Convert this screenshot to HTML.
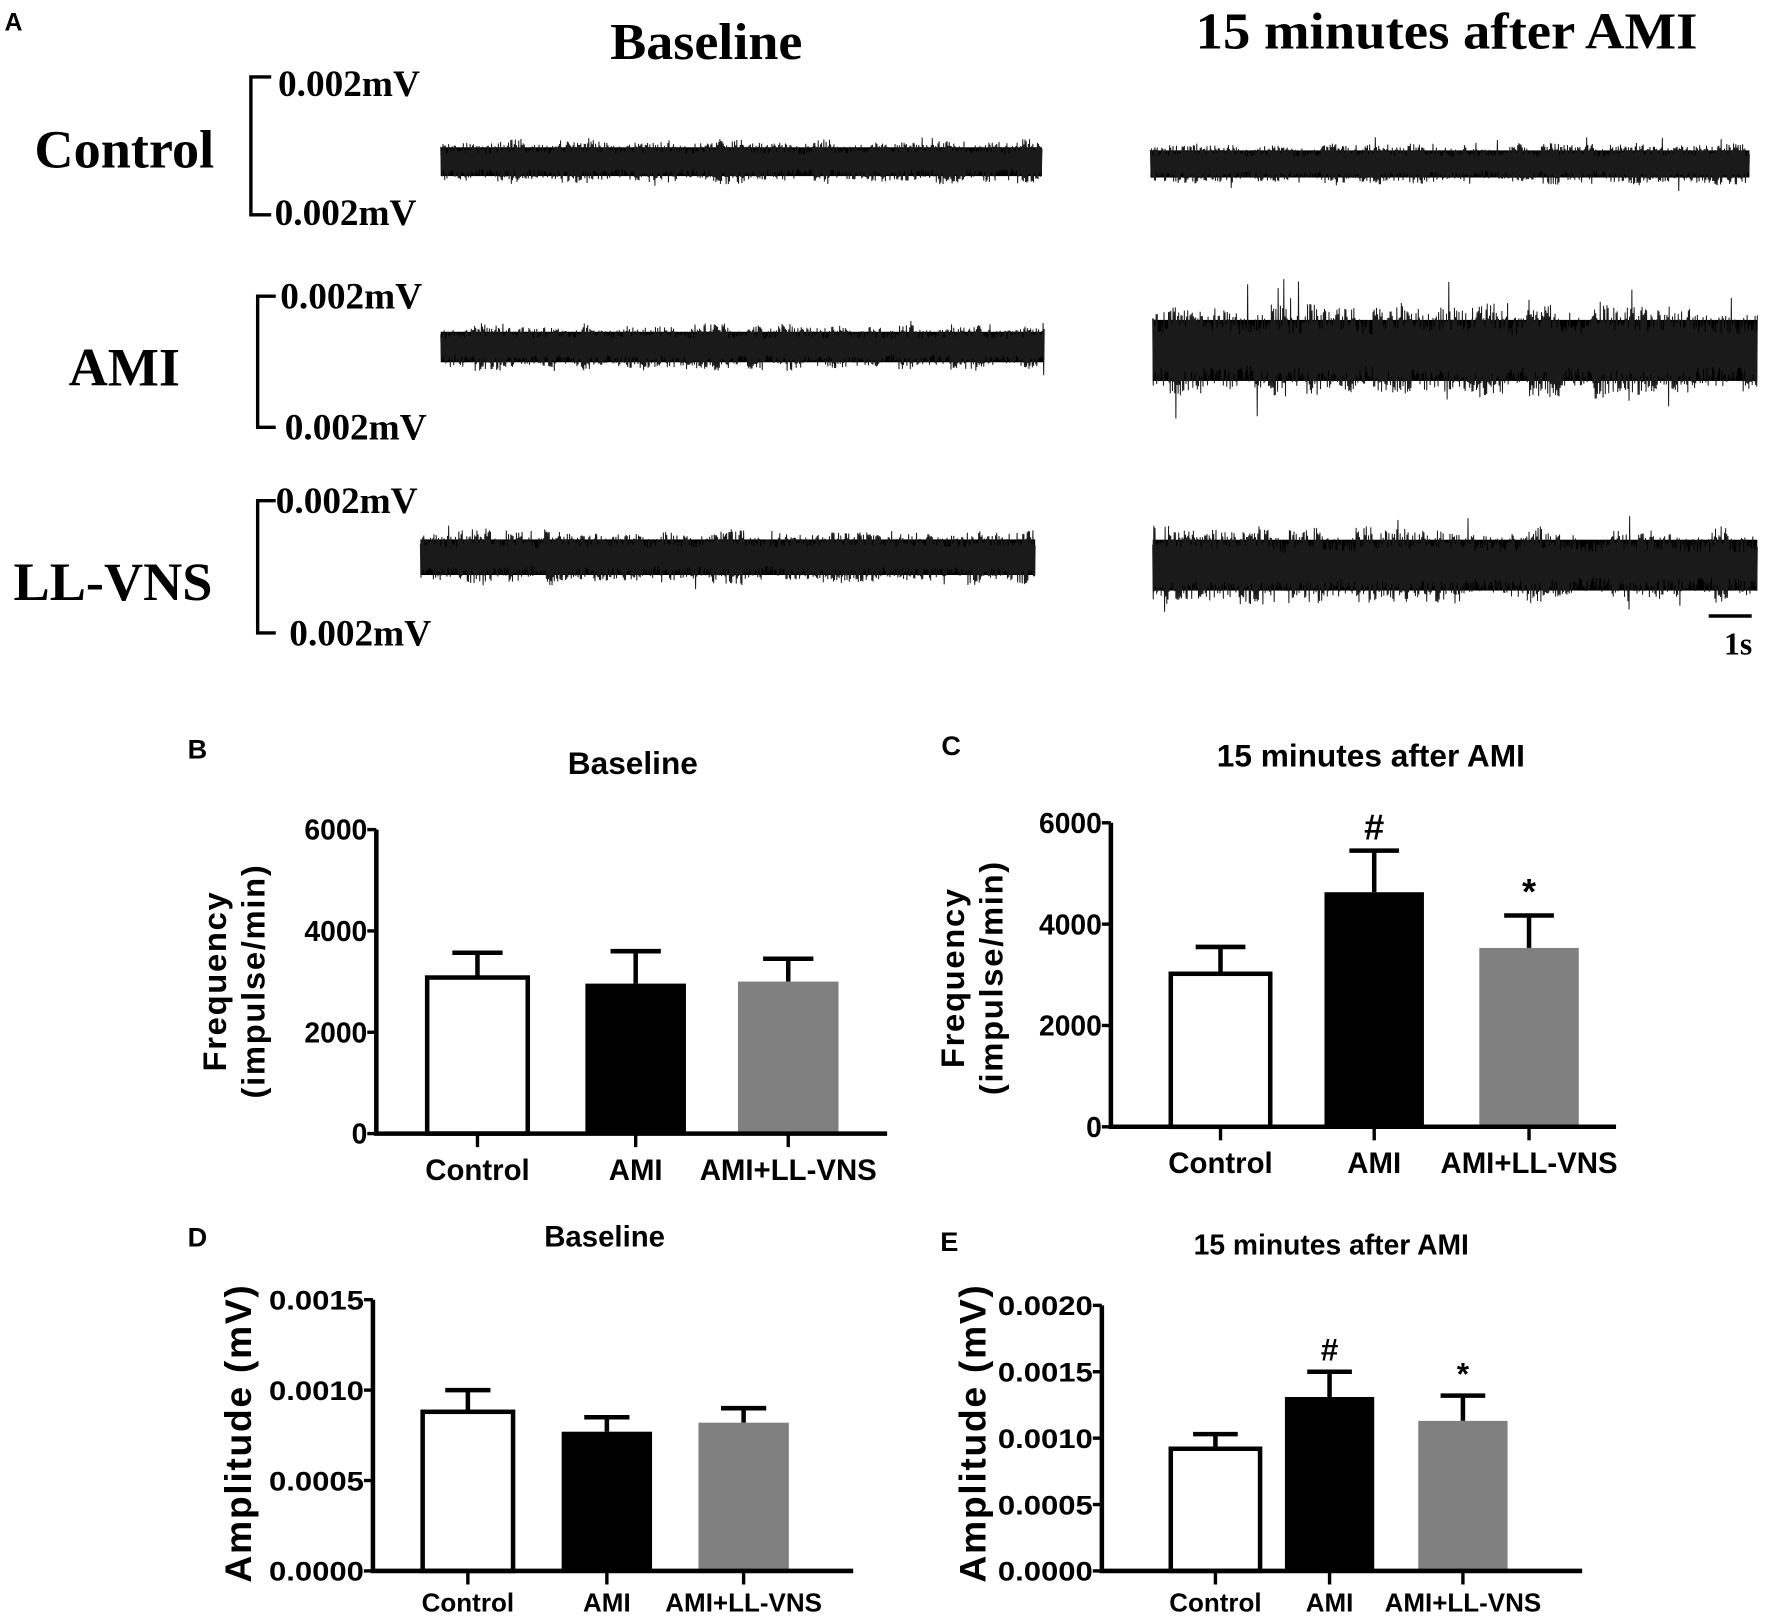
<!DOCTYPE html>
<html><head><meta charset="utf-8">
<style>
html,body{margin:0;padding:0;background:#fff;}
svg{display:block;}
.serif{font-family:"Liberation Serif",serif;font-weight:bold;}
.sans{font-family:"Liberation Sans",sans-serif;font-weight:bold;}
</style></head>
<body>
<svg id="fig" width="1772" height="1623" viewBox="0 0 1568 1436" xmlns="http://www.w3.org/2000/svg">
<g>
<text class="sans" x="4" y="27" font-size="22">A</text>
<text class="serif" x="625" y="52" font-size="46" text-anchor="middle" textLength="170" lengthAdjust="spacingAndGlyphs">Baseline</text>
<text class="serif" x="1280" y="43" font-size="46" text-anchor="middle" textLength="444" lengthAdjust="spacingAndGlyphs">15 minutes after AMI</text>
<text class="serif" x="110" y="148" font-size="48" text-anchor="middle">Control</text>
<text class="serif" x="110" y="341" font-size="48" text-anchor="middle">AMI</text>
<text class="serif" x="100" y="531" font-size="48" text-anchor="middle">LL-VNS</text>
<g fill="none" stroke="#000" stroke-width="3">
<path d="M240 68 H222 V190 H240"/>
<path d="M244 262 H228 V378 H244"/>
<path d="M244 443 H228 V560 H244"/>
</g>
<g class="serif" font-size="33">
<text x="246" y="85">0.002mV</text><text x="243" y="199">0.002mV</text>
<text x="248" y="273">0.002mV</text><text x="252" y="389">0.002mV</text>
<text x="244" y="454">0.002mV</text><text x="256" y="571">0.002mV</text>
</g>
<g id="traces"></g>
<line x1="1512" y1="545" x2="1550" y2="545" stroke="#000" stroke-width="3"/>
<text class="serif" x="1538" y="579" font-size="28" text-anchor="middle">1s</text>
</g>
<g id="charts"></g>
</svg>
<script>
const cats = ["Control","AMI","AMI+LL-VNS"];
const freqBaseMean = [3080, 2960, 3000];
const freqBaseErr = [3570, 3600, 3450];
const freqAfterMean = [3020, 4630, 3530];
const freqAfterErr = [3550, 5450, 4170];
const ampBaseMean = [0.00088, 0.00077, 0.00082];
const ampBaseErr = [0.00100, 0.00085, 0.00090];
const ampAfterMean = [0.00092, 0.00131, 0.00113];
const ampAfterErr = [0.00103, 0.00150, 0.00132];
const freqTicks = [0, 2000, 4000, 6000];
const ampBaseTicks = ["0.0000","0.0005","0.0010","0.0015"];
const ampAfterTicks = ["0.0000","0.0005","0.0010","0.0015","0.0020"];
const afterMarks = ["", "#", "*"];

const NS = "http://www.w3.org/2000/svg";
function mk(tag, attrs, parent){const e=document.createElementNS(NS,tag);for(const k in attrs){if(attrs[k]!==null)e.setAttribute(k,attrs[k]);}parent.appendChild(e);return e;}
const fills=["#fff","#000","#808080"];

function chart(cfg){
  const g=mk("g",{},document.getElementById("charts"));
  
  
  const y=v=>cfg.y0-(v-cfg.vmin)/(cfg.vmax-cfg.vmin)*(cfg.y0-cfg.ytop);
  const lbl=mk("text",{x:cfg.labelX,y:cfg.labelY,"font-size":24,class:"sans"},g);lbl.textContent=cfg.letter;
  
  
  const t=mk("text",{x:cfg.titleX,y:cfg.titleY,"font-size":cfg.titleSize,"text-anchor":"middle",class:"sans"},g);t.textContent=cfg.title;
  
  
  cfg.means.forEach((m,i)=>{
    const x0=cfg.bx[i], w=cfg.bw;
    const cx=x0+w/2;
    const e=mk("line",{x1:cx,x2:cx,y1:y(m),y2:y(cfg.errs[i]),stroke:"#000","stroke-width":4},g);
    
    
    const c=mk("line",{x1:cx-w*0.25,x2:cx+w*0.25,y1:y(cfg.errs[i]),y2:y(cfg.errs[i]),stroke:"#000","stroke-width":4},g);
    
    
    const r=mk("rect",{x:x0,y:y(m),width:w,height:cfg.y0-y(m),fill:fills[i],stroke:i==0?"#000":"none","stroke-width":4},g);
    
    
    if(cfg.marks && cfg.marks[i]){
      const s=mk("text",{x:cx,y:y(cfg.errs[i])-10,"font-size":cfg.markSize,"text-anchor":"middle",class:"sans"},g);
      s.textContent=cfg.marks[i];
      
      
    }
    const tk=mk("line",{x1:cx,x2:cx,y1:cfg.y0,y2:cfg.y0+12,stroke:"#000","stroke-width":3},g);
    
    
    const cl=mk("text",{x:cx,y:cfg.catY,"font-size":cfg.catSize,"text-anchor":"middle",class:"sans"},g);
    cl.textContent=cats[i];
    
    
  });
  const ax=mk("path",{d:`M${cfg.ax} ${cfg.ytop} V${cfg.y0} H${cfg.axEnd}`,fill:"none",stroke:"#000","stroke-width":4},g);
  
  
  cfg.ticks.forEach(tv=>{
    const v=parseFloat(tv);
    const l=mk("line",{x1:cfg.ax-8,x2:cfg.ax,y1:y(v),y2:y(v),stroke:"#000","stroke-width":3},g);
    
    
    const tt=mk("text",{x:cfg.ax-8,y:y(v)+cfg.tickSize*0.36,"font-size":cfg.tickSize,"text-anchor":"end",class:"sans",textLength:cfg.tickW,lengthAdjust:cfg.tickW?"spacingAndGlyphs":null},g);
    tt.textContent=String(tv);
    
    
  });
  cfg.ytitle.forEach((s,k)=>{
    const yt=mk("text",{x:0,y:0,"font-size":cfg.ytSize,"text-anchor":"middle",class:"sans",transform:`translate(${cfg.ytX[k]} ${cfg.ytY}) rotate(-90)`,"letter-spacing":cfg.ytLS||0},g);
    yt.textContent=s;
    
    
  });
}

chart({name:"chart-b-baseline-frequency",letter:"B",labelX:166,labelY:671,title:"Baseline",titleX:560,titleY:685,titleSize:28,
  vmin:0,vmax:6000,y0:1003,ytop:734,ax:333,axEnd:785,bx:[378,518,653],bw:89,means:freqBaseMean,errs:freqBaseErr,
  ticks:freqTicks,tickSize:25,tickW:null,catY:1044,catSize:26,ytitle:["Frequency","(impulse/min)"],ytX:[200,234],ytY:868,ytSize:29,ytLS:1.5});
chart({name:"chart-c-after-frequency",letter:"C",labelX:833,labelY:668,title:"15 minutes after AMI",titleX:1213,titleY:678,titleSize:28,
  vmin:0,vmax:6000,y0:997,ytop:728,ax:983,axEnd:1430,bx:[1036,1172,1309],bw:88,means:freqAfterMean,errs:freqAfterErr,marks:afterMarks,markSize:32,
  ticks:freqTicks,tickSize:25,tickW:null,catY:1038,catSize:26,ytitle:["Frequency","(impulse/min)"],ytX:[853,887],ytY:865,ytSize:29,ytLS:1.5});
chart({name:"chart-d-baseline-amplitude",letter:"D",labelX:166,labelY:1103,title:"Baseline",titleX:535,titleY:1103,titleSize:26,
  vmin:0,vmax:0.0015,y0:1390,ytop:1150,ax:330,axEnd:755,bx:[374,497,618],bw:80,means:ampBaseMean,errs:ampBaseErr,
  ticks:ampBaseTicks,tickSize:24,tickW:84,catY:1426,catSize:23,ytitle:["Amplitude (mV)"],ytX:[222],ytY:1268,ytSize:33,ytLS:1.5});
chart({name:"chart-e-after-amplitude",letter:"E",labelX:832,labelY:1107,title:"15 minutes after AMI",titleX:1178,titleY:1110,titleSize:25,
  vmin:0,vmax:0.002,y0:1390,ytop:1155,ax:975,axEnd:1400,bx:[1036,1137,1255],bw:79,means:ampAfterMean,errs:ampAfterErr,marks:afterMarks,markSize:28,
  ticks:ampAfterTicks,tickSize:24,tickW:84,catY:1426,catSize:23,ytitle:["Amplitude (mV)"],ytX:[872],ytY:1268,ytSize:33,ytLS:1.5});

// Panel A traces (texture of recorded nerve activity; deterministic hash noise)
function h(n){const s=Math.sin(n*12.9898+78.233)*43758.5453;return s-Math.floor(s);}
const traceSpecs=[
  {name:"trace-control-baseline",x0:390,x1:922,yc:143,a:17,spk:26,seed:1},
  {name:"trace-control-after",x0:1018,x1:1548,yc:145,a:16,spk:28,seed:2},
  {name:"trace-ami-baseline",x0:390,x1:924,yc:307,a:18,spk:28,seed:3},
  {name:"trace-ami-after",x0:1020,x1:1555,yc:310,a:36,spk:72,seed:4},
  {name:"trace-llvns-baseline",x0:372,x1:916,yc:493,a:21,spk:32,seed:5},
  {name:"trace-llvns-after",x0:1020,x1:1555,yc:500,a:30,spk:50,seed:6}
];
const tg=document.getElementById("traces");
traceSpecs.forEach(sp=>{
  const band=mk("rect",{x:sp.x0,y:sp.yc-sp.a*0.75,width:sp.x1-sp.x0,height:sp.a*1.5,fill:"#000"},tg);
  
  
  let d="";
  let i=0;
  for(let x=sp.x0;x<=sp.x1;x+=0.5){
    const r=h(x*1.7+sp.seed*100);
    let amp=sp.a*(0.8+0.4*h(Math.floor(x/15)+sp.seed*7));
    if(h(x*3.1+sp.seed)>0.975) amp=sp.spk*(0.6+0.4*h(x+sp.seed));
    const yy=sp.yc+(i%2?1:-1)*(0.45+0.55*r)*amp;
    d+=(i?"L":"M")+x.toFixed(1)+" "+yy.toFixed(1);
    i++;
  }
  const p=mk("path",{d:d,fill:"none",stroke:"#1a1a1a","stroke-width":0.9},tg);
  
  
});
</script>
</body></html>
